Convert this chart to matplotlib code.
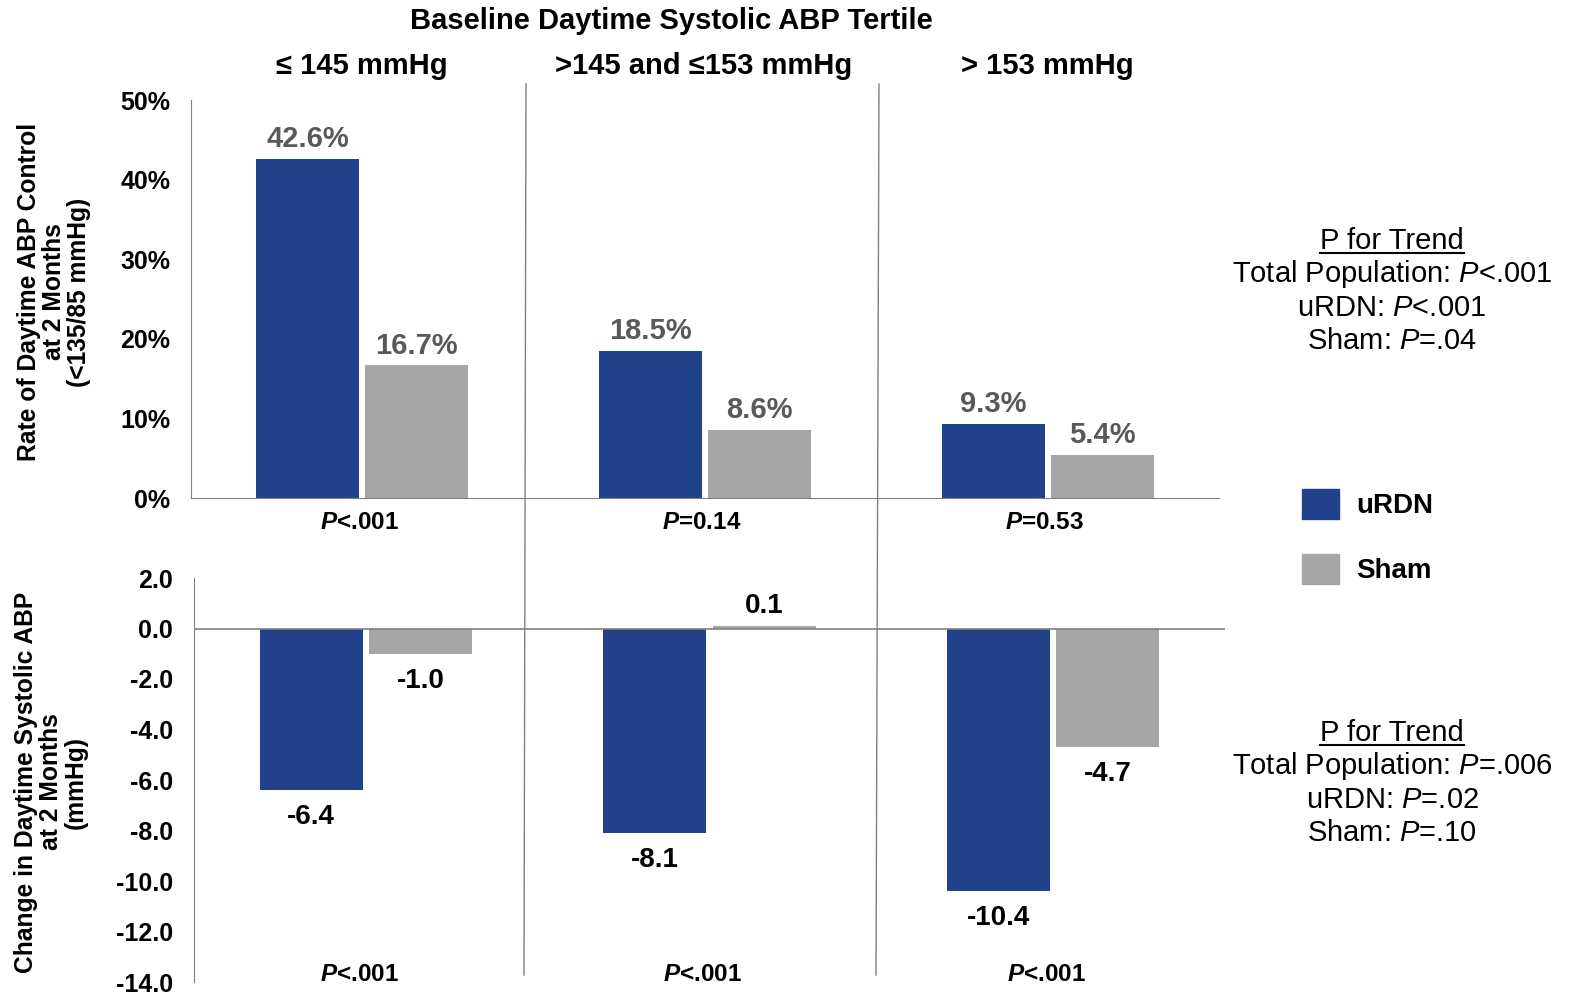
import matplotlib.pyplot as plt
from matplotlib.lines import Line2D
from matplotlib.patches import Patch
from matplotlib.ticker import PercentFormatter, FuncFormatter
import numpy as np

plt.rcParams['font.family'] = ['Liberation Sans', 'DejaVu Sans']
plt.rcParams['mathtext.fontset'] = 'custom'
plt.rcParams['mathtext.rm'] = 'Liberation Sans'
plt.rcParams['mathtext.it'] = 'Liberation Sans:italic'
plt.rcParams['mathtext.bf'] = 'Liberation Sans:bold:italic'

# data
tertiles = ['≤ 145 mmHg', '>145 and ≤153 mmHg', '> 153 mmHg']
control_urdn = [42.6, 18.5, 9.3]
control_sham = [16.7, 8.6, 5.4]
change_urdn = [-6.4, -8.1, -10.4]
change_sham = [-1.0, 0.1, -4.7]
p_control = ['<.001', '=0.14', '=0.53']
p_change = ['<.001', '<.001', '<.001']
trend_control = [('Total Population', '<.001'), ('uRDN', '<.001'), ('Sham', '=.04')]
trend_change = [('Total Population', '=.006'), ('uRDN', '=.02'), ('Sham', '=.10')]

BLUE = '#21418a'
GRAY = '#a6a6a6'
AXC = '#808080'
W, H = 1572, 997

fig = plt.figure(figsize=(W / 100, H / 100), dpi=100)
ax1 = fig.add_axes([191 / W, 1 - 498 / H, 1028 / W, 398 / H])
ax2 = fig.add_axes([194 / W, 1 - 982 / H, 1031 / W, 404 / H])

x = np.arange(len(tertiles))
bw, off = 0.30, 0.159

# top panel: rate of control
b1 = ax1.bar(x - off, control_urdn, bw, color=BLUE)
b2 = ax1.bar(x + off, control_sham, bw, color=GRAY)
for bars in (b1, b2):
    for r in bars:
        ax1.annotate(f'{r.get_height():.1f}%', (r.get_x() + r.get_width() / 2, r.get_height()),
                     xytext=(0, 4), textcoords='offset points', ha='center', va='bottom',
                     fontsize=21, fontweight='bold', color='#595959')
ax1.set_xlim(-0.5, 2.5)
ax1.set_ylim(0, 50)
ax1.set_yticks(np.arange(0, 51, 10))
ax1.yaxis.set_major_formatter(PercentFormatter(100, decimals=0))
ax1.set_xticks([])
for i, p in enumerate(p_control):
    ax1.text(i - 0.01, -3.1, r'$\mathbf{P}$' + p, ha='center', va='center',
             fontsize=17.5, fontweight='bold', clip_on=False)

# bottom panel: change in SBP
c1 = ax2.bar(x - off, change_urdn, bw, color=BLUE)
c2 = ax2.bar(x + off, change_sham, bw, color=GRAY)
for bars in (c1, c2):
    for r in bars:
        v = r.get_height()
        ax2.annotate(f'{v:.1f}', (r.get_x() + r.get_width() / 2, v),
                     xytext=(0, 5 if v > 0 else -10), textcoords='offset points', ha='center',
                     va='bottom' if v > 0 else 'top', fontsize=20, fontweight='bold', color='black')
ax2.set_xlim(-0.5, 2.5)
ax2.set_ylim(-14, 2)
ax2.set_yticks(np.arange(-14, 2.1, 2))
ax2.yaxis.set_major_formatter(FuncFormatter(lambda v, _: f'{v:.1f}'))
ax2.set_xticks([])
ax2.axhline(0, color=AXC, lw=1.2)
for i, p in enumerate(p_change):
    ax2.text(i - 0.02, -13.7, r'$\mathbf{P}$' + p, ha='center', va='center',
             fontsize=17.5, fontweight='bold')

for ax in (ax1, ax2):
    for s in ('top', 'right'):
        ax.spines[s].set_visible(False)
    ax.spines['left'].set_color(AXC)
    ax.spines['bottom'].set_color(AXC)
    ax.tick_params(axis='y', length=0, pad=15, labelsize=18)
    for lab in ax.get_yticklabels():
        lab.set_fontweight('bold')
ax2.spines['bottom'].set_visible(False)

# vertical separators between tertiles
for xt, xb in ((526, 524), (879, 876)):
    fig.add_artist(Line2D([xt / W, xb / W], [1 - 84 / H, 1 - 975 / H], color=AXC, lw=1.0))

# headers
fig.text(671 / W, 1 - 21 / H, 'Baseline Daytime Systolic ABP Tertile', ha='center', va='center',
         fontsize=21, fontweight='bold')
for xc, t in zip((362, 704, 1047), tertiles):
    fig.text(xc / W, 1 - 66 / H, t, ha='center', va='center', fontsize=21, fontweight='bold')

# y labels
fig.text(54 / W, 1 - 292 / H, 'Rate of Daytime ABP Control\nat 2 Months\n(<135/85 mmHg)',
         rotation=90, ha='center', va='center', fontsize=17.7, fontweight='bold', linespacing=1.05)
fig.text(51 / W, 1 - 782 / H, 'Change in Daytime Systolic ABP\nat 2 Months\n(mmHg)',
         rotation=90, ha='center', va='center', fontsize=17.7, fontweight='bold', linespacing=1.05)

# P for trend blocks
heads = []
for y0, rows in ((241, trend_control), (733, trend_change)):
    heads.append(fig.text(1392 / W, 1 - y0 / H, 'P for Trend', ha='center', va='center', fontsize=21))
    for k, (name, p) in enumerate(rows):
        fig.text(1392 / W, 1 - (y0 + 33.3 * (k + 1)) / H, name + r': $\mathit{P}$' + p,
                 ha='center', va='center', fontsize=21)

# legend
fig.legend(handles=[Patch(color=BLUE, label='uRDN'), Patch(color=GRAY, label='Sham')],
           loc='upper left', bbox_to_anchor=(1288 / W, 1 - 475 / H), frameon=False,
           handlelength=1.35, handleheight=1.3, handletextpad=0.6, labelspacing=1.25,
           borderpad=0, prop={'weight': 'bold', 'size': 20})

# underline the block headings
fig.canvas.draw()
rend = fig.canvas.get_renderer()
for t in heads:
    bb = t.get_window_extent(rend).transformed(fig.transFigure.inverted())
    fig.add_artist(Line2D([bb.x0, bb.x1], [bb.y0 + 2 / H, bb.y0 + 2 / H], color='black', lw=1.5))

fig.savefig('out.png', dpi=100)
